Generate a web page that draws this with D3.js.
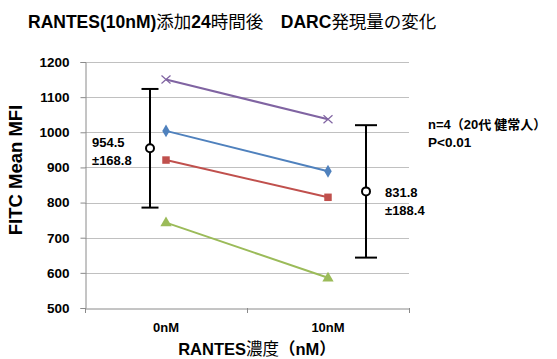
<!DOCTYPE html>
<html>
<head>
<meta charset="utf-8">
<script src="https://cdn.jsdelivr.net/npm/d3@7/dist/d3.min.js"></script>
<style>
  html, body { margin: 0; padding: 0; background: #fff; }
  svg { display: block; }
  text { fill: #000; }
</style>
</head>
<body>
<svg id="chart" width="557" height="359"></svg>
<script>
// RANTES concentration groups
const categories = ["0nM", "10nM"];
// Individual donors (FITC mean fluorescence)
const donorPurple = [1150, 1037];
const donorBlue   = [1004, 889];
const donorRed    = [921, 815];
const donorGreen  = [743, 586];
// Group summary: mean and SD
const groupMeans = [954.5, 831.8];
const groupSDs   = [168.8, 188.4];
const meanLabels = ["954.5", "831.8"];
const sdLabels   = ["±168.8", "±188.4"];
const yTicks = [500, 600, 700, 800, 900, 1000, 1100, 1200];

const LATIN = "'Liberation Sans', Arial, sans-serif";
const CJK = "'Noto Sans CJK JP', 'Noto Sans CJK SC', sans-serif";

const svg = d3.select("#chart");
const plotLeft = 85, plotRight = 409, plotTop = 62, plotBottom = 308;

const x = d3.scaleBand().domain(categories).range([plotLeft, plotRight]);
const cx = c => x(c) + x.bandwidth() / 2;
const y = d3.scaleLinear().domain([500, 1200]).range([plotBottom, plotTop]);

// gridlines
svg.append("g").selectAll("line").data(yTicks.filter(t => t > 500)).join("line")
  .attr("x1", plotLeft).attr("x2", plotRight)
  .attr("y1", d => Math.round(y(d)) + 0.5).attr("y2", d => Math.round(y(d)) + 0.5)
  .attr("stroke", "#c0c0c0").attr("stroke-width", 1.2);

// y axis
const yAxis = svg.append("g").attr("transform", `translate(${plotLeft + 0.5},0)`)
  .call(d3.axisLeft(y).tickValues(yTicks).tickFormat(d3.format("d")).tickSize(5).tickPadding(10));
yAxis.select(".domain").attr("stroke", "#8a8a8a");
yAxis.selectAll(".tick line").attr("stroke", "#8a8a8a");
yAxis.selectAll(".tick text").attr("font-family", LATIN).attr("font-weight", "bold")
  .attr("font-size", 13.5).attr("fill", "#000").attr("dx", "-1");

// x axis
const xAxis = svg.append("g").attr("transform", `translate(0,${plotBottom + 0.5})`)
  .call(d3.axisBottom(x).tickSize(0).tickPadding(14));
xAxis.select(".domain").attr("stroke", "#8a8a8a");
xAxis.selectAll(".tick text").attr("font-family", LATIN).attr("font-weight", "bold")
  .attr("font-size", 13).attr("fill", "#000");
// category boundary ticks
svg.append("g").selectAll("line").data([plotLeft, x(categories[1]), plotRight]).join("line")
  .attr("x1", d => Math.round(d) + 0.5).attr("x2", d => Math.round(d) + 0.5)
  .attr("y1", plotBottom).attr("y2", plotBottom + 5).attr("stroke", "#8a8a8a");

// donor lines
const series = [
  { values: donorPurple, color: "#8064a2", marker: "x" },
  { values: donorBlue,   color: "#4f81bd", marker: "diamond" },
  { values: donorRed,    color: "#c0504d", marker: "square" },
  { values: donorGreen,  color: "#9bbb59", marker: "triangle" }
];
const line = d3.line().x((d, i) => cx(categories[i])).y(d => y(d));
const symbols = {
  diamond: d3.symbolDiamond, square: d3.symbolSquare, triangle: d3.symbolTriangle
};
series.forEach(s => {
  svg.append("path").attr("d", line(s.values)).attr("fill", "none")
    .attr("stroke", s.color).attr("stroke-width", 2);
  s.values.forEach((v, i) => {
    const px = cx(categories[i]), py = y(v);
    if (s.marker === "x") {
      svg.append("path").attr("d", `M${px-4.5},${py-4} L${px+4.5},${py+4} M${px-4.5},${py+4} L${px+4.5},${py-4}`)
        .attr("stroke", s.color).attr("stroke-width", 1.2).attr("fill", "none");
    } else {
      const size = s.marker === "diamond" ? 48 : s.marker === "square" ? 56 : 55;
      svg.append("path").attr("d", d3.symbol(symbols[s.marker], size)())
        .attr("transform", `translate(${px},${py + (s.marker === "triangle" ? 0.5 : 0)})`)
        .attr("fill", s.color);
    }
  });
});

// mean ± SD error bars
const barOffset = [-16, 38];
const capHalf = [8.5, 11];
groupMeans.forEach((m, i) => {
  const bx = cx(categories[i]) + barOffset[i];
  const g = svg.append("g").attr("stroke", "#000").attr("stroke-width", 2);
  g.append("line").attr("x1", bx).attr("x2", bx)
    .attr("y1", y(m + groupSDs[i])).attr("y2", y(m - groupSDs[i]));
  [m + groupSDs[i], m - groupSDs[i]].forEach(v => {
    g.append("line").attr("x1", bx - capHalf[i]).attr("x2", bx + capHalf[i])
      .attr("y1", y(v)).attr("y2", y(v));
  });
  g.append("circle").attr("cx", bx).attr("cy", y(m)).attr("r", 4).attr("fill", "#fff");
});

// value labels
const labelPos = [{ x: 92, y: 147 }, { x: 385, y: 197 }];
labelPos.forEach((p, i) => {
  svg.append("text").attr("x", p.x).attr("y", p.y)
    .attr("font-family", LATIN).attr("font-weight", "bold").attr("font-size", 13)
    .text(meanLabels[i]);
  svg.append("text").attr("x", p.x).attr("y", p.y + 17.5)
    .attr("font-family", LATIN).attr("font-weight", "bold").attr("font-size", 13)
    .text(sdLabels[i]);
});

// annotation
const ann = svg.append("text").attr("x", 428).attr("y", 129).attr("font-size", 13);
ann.append("tspan").attr("font-family", LATIN).attr("font-weight", "bold").text("n=4");
ann.append("tspan").attr("font-family", CJK).attr("font-weight", "bold").text("（");
ann.append("tspan").attr("font-family", LATIN).attr("font-weight", "bold").text("20");
ann.append("tspan").attr("font-family", CJK).attr("font-weight", "bold").text("代 健常人）");
svg.append("text").attr("x", 428).attr("y", 146.5)
  .attr("font-family", LATIN).attr("font-weight", "bold").attr("font-size", 13.5).text("P<0.01");

// title
const title = svg.append("text").attr("x", 28).attr("y", 28).attr("font-size", 17.5);
[["RANTES(10nM)", LATIN, "bold"], ["添加", CJK, "normal"], ["24", LATIN, "bold"],
 ["時間後　", CJK, "normal"], ["DARC", LATIN, "bold"], ["発現量の変化", CJK, "normal"]]
  .forEach(([s, f, w]) => title.append("tspan").attr("font-family", f).attr("font-weight", w).text(s));

// axis titles
svg.append("text").attr("transform", "translate(22,170) rotate(-90)")
  .attr("text-anchor", "middle").attr("font-family", LATIN).attr("font-weight", "bold")
  .attr("font-size", 18.5).text("FITC Mean MFI");
const xt = svg.append("text").attr("x", 257).attr("y", 355).attr("text-anchor", "middle")
  .attr("font-size", 16.5);
xt.append("tspan").attr("font-family", LATIN).attr("font-weight", "bold").text("RANTES");
xt.append("tspan").attr("font-family", CJK).attr("font-weight", "normal").text("濃度");
xt.append("tspan").attr("font-family", CJK).attr("font-weight", "bold").text("（");
xt.append("tspan").attr("font-family", LATIN).attr("font-weight", "bold").text("nM");
xt.append("tspan").attr("font-family", CJK).attr("font-weight", "bold").text("）");
</script>
</body>
</html>
